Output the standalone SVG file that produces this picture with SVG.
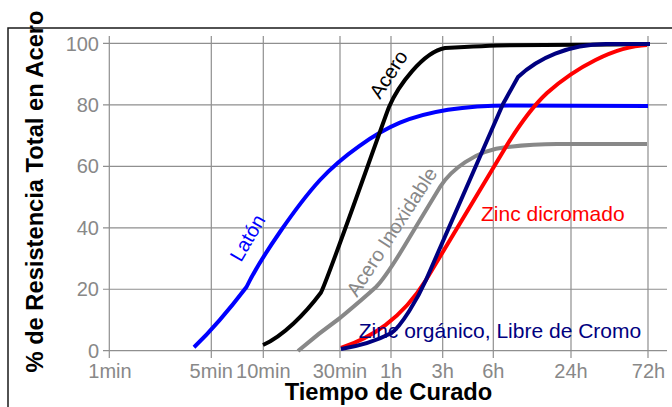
<svg xmlns="http://www.w3.org/2000/svg" width="672" height="407" viewBox="0 0 672 407">
<style>
.grid{stroke:#8f8f8f;stroke-width:1.2;fill:none}
.tick{font-family:"Liberation Sans",Arial,sans-serif;font-size:20px;fill:#888}
.title{font-family:"Liberation Sans",Arial,sans-serif;font-size:23.7px;font-weight:bold;fill:#000}
.lbl{font-family:"Liberation Sans",Arial,sans-serif;font-size:20px}
.lbl21{font-family:"Liberation Sans",Arial,sans-serif;font-size:21px}
.curve{fill:none;stroke-width:4;stroke-linejoin:round;stroke-linecap:butt}
</style>
<rect width="672" height="407" fill="#fff"/>
<path d="M8,407 V28 H672" fill="none" stroke="#1a1a1a" stroke-width="1.5"/>
<g id="grid" class="grid">
<path d="M103,43.45 H667 M103,104.9 H667 M103,166.35 H667 M103,227.8 H667 M103,289.25 H667 M103,350.7 H667"/>
<path d="M109.3,36 V358 M211.3,36 V358 M263.3,36 V358 M340,36 V358 M391,36 V358 M442.7,36 V358 M493.3,36 V358 M571,36 V358 M648,36 V358"/>
</g>
<g id="y-ticks" class="tick" text-anchor="end">
<text x="99" y="50.5">100</text>
<text x="99" y="112">80</text>
<text x="99" y="173.4">60</text>
<text x="99" y="234.8">40</text>
<text x="99" y="296.3">20</text>
<text x="99" y="357.7">0</text>
</g>
<g id="x-ticks" class="tick" text-anchor="middle">
<text x="110" y="378">1min</text>
<text x="211.3" y="378">5min</text>
<text x="263.3" y="378">10min</text>
<text x="340" y="378">30min</text>
<text x="391" y="378">1h</text>
<text x="442.7" y="378">3h</text>
<text x="493.3" y="378">6h</text>
<text x="571" y="378">24h</text>
<text x="648.5" y="378">72h</text>
</g>
<text id="x-title" class="title" x="388.5" y="399.5" text-anchor="middle">Tiempo de Curado</text>
<text id="y-title" class="title" transform="translate(43,191.5) rotate(-90)" text-anchor="middle">% de Resistencia Total en Acero</text>
<g id="connectors">
<path id="laton" class="curve" stroke="#0000ff" d="M194,347.3 C212,330 232,306 246.5,287 C261,257 298,204 320,180 C342,156 375,133.2 400,122.7 C430,110.1 470,105.5 510,105.5 L648,106"/>
<path id="acero" class="curve" stroke="#000" d="M263,345 C283,336 305,314 321,292.5 C330,274 378,136 389,107 C398,86 423,52 445,48 C470,46.5 490,45.5 510,45.2 L647,44.3"/>
<path id="inox" class="curve" stroke="#888" d="M298,351 C312,339 326,328 340,318 C352,308 364,298 376,287 C388,275 405,245 414,230 L440,187 C450,171 475,150 507,147 C525,145 540,144 557,144 L647,144"/>
<path id="zinc-dicro" class="curve" stroke="#ff0000" d="M341,348 C371,337.5 401,320 426,280 L507,145 C520,124 533,106 547,93 C575,68 615,46 647,45"/>
<path id="zinc-org" class="curve" stroke="#000080" d="M341,349 C360,346 378,340 391,333.3 C401,327 418,298 426,280 L503,104 L518,77 C538,58 568,44.5 606,44 L650,44"/>
</g>
<g id="label-laton"><text class="lbl" fill="#0000ff" transform="translate(241,263) rotate(-60)">Latón</text></g>
<g id="label-acero"><text class="lbl" fill="#000" transform="translate(380,100) rotate(-57)">Acero</text></g>
<g id="label-inox"><text class="lbl" fill="#888" transform="translate(357,298) rotate(-57)">Acero Inoxidable</text></g>
<g id="label-zinc-dicro"><text class="lbl21" fill="#ff0000" x="481" y="221">Zinc dicromado</text></g>
<g id="label-zinc-org"><text class="lbl21" fill="#000080" x="358.7" y="338.3">Zinc orgánico, Libre de Cromo</text></g>
</svg>
